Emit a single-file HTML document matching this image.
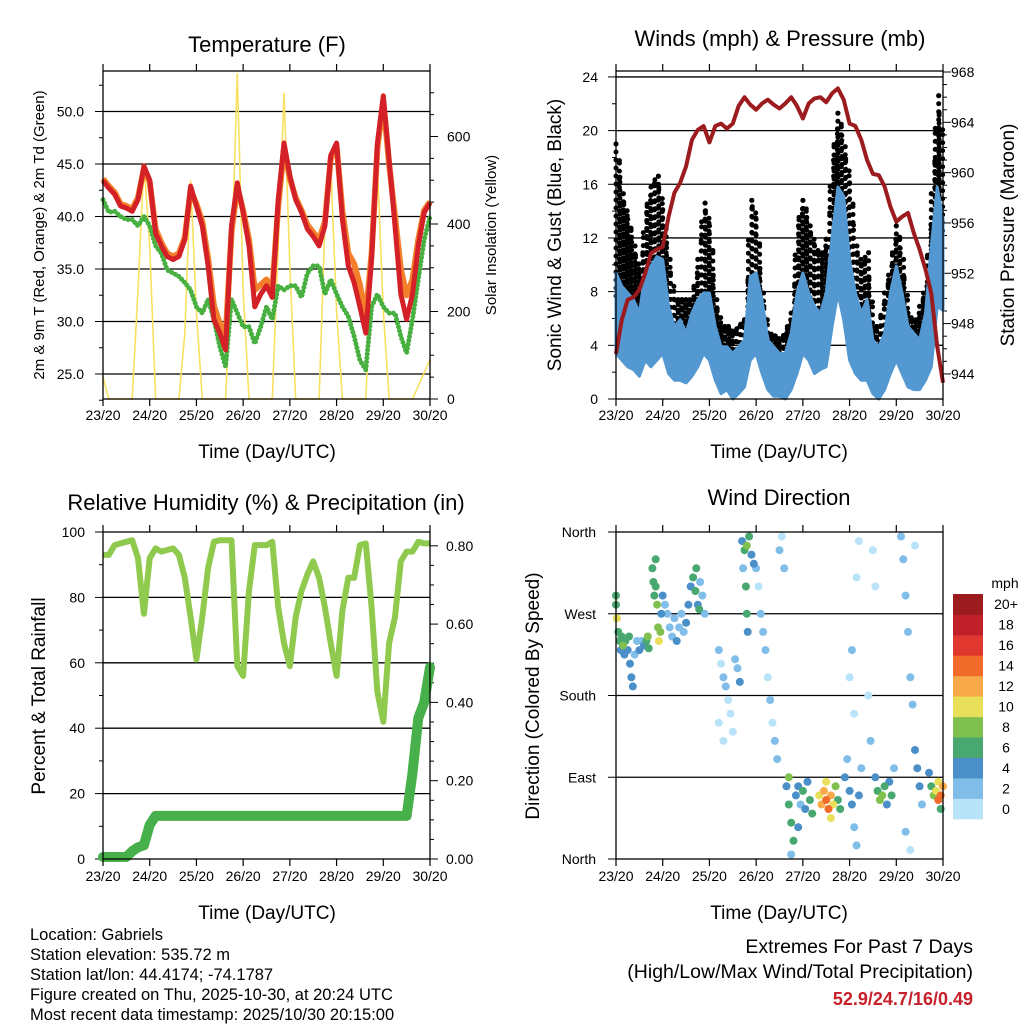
<!DOCTYPE html>
<html><head><meta charset="utf-8"><style>
html,body{margin:0;padding:0;background:#fff;}
svg{display:block;font-family:"Liberation Sans",sans-serif;}
</style></head><body>
<svg id="c" width="1024" height="1024" viewBox="0 0 1024 1024"></svg>
<script>
// ---------- data (3-hour samples, 57 points over 7 days) ----------
const days = ["23/20","24/20","25/20","26/20","27/20","28/20","29/20","30/20"];
const tempRed = [43.4,42.7,42.1,41.0,40.8,40.5,41.6,44.8,43.5,38.4,37.2,36.2,35.9,36.2,37.8,42.9,41.0,39.1,35.3,30.2,28.9,27.3,39.1,43.2,40.4,37.2,31.4,32.6,33.4,32.3,41.6,47.0,43.9,41.6,40.4,38.8,38.1,37.2,39.1,45.8,47.0,39.7,35.3,33.7,31.4,28.9,35.9,47.0,51.5,45.4,39.1,32.6,30.2,32.6,37.2,40.4,41.3];
const tempOrange = [43.6,42.9,42.3,41.2,41.0,40.7,41.8,44.5,43.3,38.8,37.5,36.5,36.2,36.5,38.0,42.5,41.2,39.5,36.0,31.5,29.8,28.5,38.5,42.8,40.6,37.8,33.0,33.5,34.0,33.0,41.0,46.5,43.6,41.8,40.6,39.2,38.5,37.8,39.5,45.5,46.7,40.5,36.5,35.5,33.5,30.5,36.5,46.5,51.0,45.0,40.0,35.0,32.5,34.0,37.8,40.6,41.4];
const tempDew = [41.6,40.4,40.5,40.0,39.7,39.7,39.1,40.0,39.1,37.2,36.5,34.9,34.6,34.3,33.7,33.0,31.4,30.8,32.1,30.2,27.6,25.7,32.1,30.8,29.5,29.5,27.9,29.5,31.4,30.2,33.4,33.0,33.4,33.4,32.3,34.6,35.3,35.3,32.6,34.0,32.6,31.4,30.5,28.6,26.3,25.4,31.4,32.6,31.4,30.8,30.8,28.6,27.0,30.2,34.0,37.8,40.0];
const solar = [50,0,0,0,0,0,250,540,350,0,0,0,0,0,150,500,200,0,0,0,0,0,300,745,250,0,0,0,0,0,350,700,300,0,0,0,0,0,400,540,200,0,0,0,0,0,300,530,200,0,0,0,0,0,30,60,90];
const windHi = [9.4,8.4,7.9,7.4,6.4,9.4,9.9,10.6,10.4,6.9,5.4,5.9,4.9,6.4,7.4,7.9,7.9,5.4,3.9,3.9,3.4,3.9,4.4,9.1,9.4,7.4,4.4,3.9,3.4,3.4,4.9,7.9,9.4,7.9,6.9,6.4,7.9,12.1,15.8,15.1,10.4,7.9,6.4,7.4,4.4,3.9,4.9,7.9,9.9,7.9,5.4,4.9,4.4,6.4,11.4,15.8,13.4];
const windLo = [3.4,2.9,2.4,2.2,1.7,2.9,2.4,2.9,3.4,1.9,1.4,1.4,1.2,1.7,2.4,3.4,2.9,1.4,0.4,0.7,0,0.4,0.9,2.9,3.4,1.9,0.7,0.2,0.2,0,0.7,1.9,3.4,2.9,1.9,2.2,2.4,5.4,7.9,5.9,2.9,1.9,1.4,1.4,0.4,0,0.7,1.9,2.9,1.9,0.9,0.7,0.7,1.4,2.4,6.9,6.6];
const gustHi = [19,15.3,13.4,11.4,9.4,13.9,15.8,16.6,14.1,10.4,7.4,7.4,7.4,7.4,10.4,14.6,12.9,7.4,5.4,5.4,4.9,5.4,5.9,14.8,13.4,7.9,4.9,4.7,4.4,4.9,6.4,12.9,14.8,12.9,11.4,10.4,11.9,17.8,21.3,18.8,16.1,11.4,9.9,10.9,5.4,5.4,7.9,9.9,12.9,10.4,6.4,5.4,6.9,8.4,15.3,22.6,18.8];
const pressure = [945.6,948.3,949.9,950.1,950.7,952.0,953.6,953.9,954.1,956.5,958.4,959.2,960.5,962.6,963.4,963.7,962.4,963.7,963.9,963.5,963.9,965.3,966.0,965.4,965.0,965.5,965.8,965.4,965.1,965.5,966.0,965.3,964.3,965.5,965.9,966.0,965.6,966.3,966.7,965.8,963.9,963.7,962.6,961.0,959.9,959.8,958.9,957.3,956.1,956.5,956.8,955.2,953.9,952.3,950.4,946.2,943.3];
const rh = [93,93,96,96.5,97,97.5,92,75,92,95,94,94.5,95,93,86,74,61,74,89,97,97.5,97.5,97.5,59,56,82,96,96,96,97,77,66,59,74,82,87,91,86,77,66,56,76,86,86,96,96.5,77,51,42,66,74,91,94,94,97,96.5,96.5];
const precip = [0.005,0.005,0.005,0.005,0.005,0.02,0.03,0.035,0.087,0.11,0.11,0.11,0.11,0.11,0.11,0.11,0.11,0.11,0.11,0.11,0.11,0.11,0.11,0.11,0.11,0.11,0.11,0.11,0.11,0.11,0.11,0.11,0.11,0.11,0.11,0.11,0.11,0.11,0.11,0.11,0.11,0.11,0.11,0.11,0.11,0.11,0.11,0.11,0.11,0.11,0.11,0.11,0.11,0.22,0.36,0.40,0.49];
const wdTime = [0,0,0.02,0.05,0.08,0.1,0.12,0.15,0.18,0.2,0.25,0.28,0.3,0.33,0.36,0.4,0.45,0.5,0.55,0.6,0.65,0.68,0.7,0.78,0.8,0.82,0.85,0.88,0.9,0.92,0.95,0.97,1.0,0.85,1.05,1.1,1.15,1.2,1.25,1.3,1.35,1.4,1.45,1.5,1.55,1.6,1.65,1.7,1.75,1.8,1.85,1.9,1.72,1.78,2.2,2.25,2.3,2.35,2.4,2.45,2.5,2.55,2.6,2.65,2.2,2.3,2.7,2.75,2.8,2.85,2.9,2.95,2.78,2.8,2.82,2.72,3.0,3.05,3.1,3.15,3.2,3.25,3.3,3.35,3.4,3.45,3.5,3.55,3.6,3.65,3.7,3.75,3.8,3.85,3.9,3.95,4.0,4.05,4.1,4.15,4.2,3.75,3.9,3.7,4.35,4.4,4.45,4.5,4.55,4.6,4.65,4.7,4.75,4.8,4.5,4.6,4.9,4.95,5.0,5.05,5.1,5.15,5.2,5.25,5.0,5.05,5.1,5.15,5.2,5.55,5.6,5.65,5.7,5.75,5.8,5.85,5.9,5.95,5.5,5.55,5.45,5.4,6.1,6.15,6.2,6.25,6.3,6.35,6.4,6.45,6.5,6.55,6.2,6.3,6.4,6.7,6.75,6.8,6.85,6.9,6.95,7.0,6.9,6.95];
const wdDir = [290,280,265,250,240,230,245,235,225,240,230,245,215,200,190,225,240,230,240,235,240,245,232,320,305,290,300,280,255,240,250,270,290,330,280,270,255,245,265,240,255,270,250,260,280,300,310,295,280,305,290,270,320,275,230,215,200,190,175,160,140,220,210,195,150,130,350,340,345,355,335,325,300,270,250,320,320,300,270,250,230,200,175,150,130,110,340,355,320,80,60,40,20,70,80,60,75,55,85,65,50,5,35,90,70,60,75,65,55,70,60,80,65,55,85,45,90,110,75,60,35,15,70,100,200,230,160,310,350,90,75,65,70,80,60,85,70,100,340,300,130,180,355,330,290,250,200,170,120,100,80,60,30,10,345,95,80,70,75,65,70,80,85,55];
const wdSpd = [7,7,10,6,6,5,7,8,4,6,5,7,4,4,4,3,3,4,3,5,7,8,7,6,6,7,6,8,9,10,8,5,4,7,3,2,3,2,3,4,2,3,2,4,4,5,6,6,4,3,2,3,6,7,2,1,2,3,1,1,0,2,3,4,1,0,5,7,8,6,5,4,6,6,5,3,2,1,2,3,2,1,2,1,3,2,3,1,2,5,6,7,6,4,5,3,6,5,4,6,7,3,4,8,11,12,13,15,14,12,10,9,7,6,10,11,4,3,5,4,3,2,4,3,1,2,1,1,1,5,7,8,9,7,5,4,6,3,1,1,2,1,2,3,2,2,3,2,4,5,4,3,2,1,1,5,7,9,11,14,15,12,10,6];
const speedBins = ["0","2","4","6","8","10","12","14","16","18","20+"];
const binColors = ["#b9e3f8","#80bde8","#4a8fc8","#48a870","#80c04e","#e8e05a","#f8aa4a","#f06a2a","#e0382e","#c0202a","#9b1b1e"];

// ---------- helpers ----------
const NS="http://www.w3.org/2000/svg";
const svg=document.getElementById('c');
function mk(tag,attrs,parent){const e=document.createElementNS(NS,tag);for(const k in attrs)e.setAttribute(k,attrs[k]);(parent||svg).appendChild(e);return e;}
function txt(s,x,y,size,anchor,parent,extra){const t=mk('text',Object.assign({x:x,y:y,'font-size':size,'text-anchor':anchor||'middle',fill:'#000'},extra||{}),parent);t.textContent=s;return t;}
const N=57;
function dayOf(i){return i/8;}

function panelFrame(name){
  const g=mk('g',{});
  
  
  return g;
}
function xAxis(g,x0,x1,y0,y1,labY){
  const sx=d=>x0+d*(x1-x0)/7;
  for(let i=0;i<8;i++){
    const x=sx(i);
    mk('line',{x1:x,y1:y1,x2:x,y2:y1+7,stroke:'#000','stroke-width':1.2},g);
    mk('line',{x1:x,y1:y0,x2:x,y2:y0-7,stroke:'#000','stroke-width':1.2},g);
    const t=txt(days[i],x,labY,14,'middle',g);
    
    
  }
  return sx;
}
function frame(g,x0,x1,y0,y1){
  mk('rect',{x:x0,y:y0,width:x1-x0,height:y1-y0,fill:'none',stroke:'#000','stroke-width':1.3},g);
}
function poly(g,pts,attrs){return mk('polyline',Object.assign({points:pts.map(p=>p[0].toFixed(1)+','+p[1].toFixed(1)).join(' '),fill:'none'},attrs),g);}

// ================= Panel 1: Temperature =================
(function(){
  const x0=103,x1=430,y0=71,y1=399;
  const g=panelFrame('temperature-panel');
  const sx=d=>x0+d*(x1-x0)/7;
  const ty=T=>374-(T-25)*10.5;
  const sy=S=>399-S*0.4375;
  [25,30,35,40,45,50].forEach(v=>{
    const y=ty(v);
    mk('line',{x1:x0,y1:y,x2:x1,y2:y,stroke:'#000','stroke-width':1.3},g);
    mk('line',{x1:x0-8,y1:y,x2:x0,y2:y,stroke:'#000','stroke-width':1},g);
    const t=txt(v.toFixed(1),x0-19,y+5,14,'end',g);
    
    
  });
  for(let v=22.5;v<=53;v+=2.5){if(v%5!==0)mk('line',{x1:x0-4,y1:ty(v),x2:x0,y2:ty(v),stroke:'#000','stroke-width':1},g);}
  [0,200,400,600].forEach(v=>{
    const y=sy(v);
    mk('line',{x1:x1,y1:y,x2:x1+8,y2:y,stroke:'#000','stroke-width':1},g);
    const t=txt(String(v),x1+17,y+5,14,'start',g);
    
    
  });
  for(let v=50;v<750;v+=50){if(v%200!==0)mk('line',{x1:x1,y1:sy(v),x2:x1+4,y2:sy(v),stroke:'#000','stroke-width':1},g);}
  const sol=poly(g,solar.map((v,i)=>[sx(dayOf(i)),sy(v)]),{stroke:'#f8e060','stroke-width':1.6});
  
  
  const dew=poly(g,tempDew.map((v,i)=>[sx(dayOf(i)),ty(v)]),{stroke:'#48b040','stroke-width':5,'stroke-linecap':'round','stroke-dasharray':'0 4'});
  
  
  const or=poly(g,tempOrange.map((v,i)=>[sx(dayOf(i)),ty(v)]),{stroke:'#f47f2a','stroke-width':6,'stroke-linejoin':'round'});
  
  
  const rd=poly(g,tempRed.map((v,i)=>[sx(dayOf(i)),ty(v)]),{stroke:'#d42027','stroke-width':5,'stroke-linejoin':'round'});
  
  
  frame(g,x0,x1,y0,y1);
  xAxis(g,x0,x1,y0,y1,420);
  const t1=txt('Temperature (F)',267,52,22,'middle',g);
  
  
  const t2=txt('Time (Day/UTC)',267,458,19,'middle',g);
  
  
  const t3=txt('2m & 9m T (Red, Orange) & 2m Td (Green)',0,0,15,'middle',g,{transform:'translate(44,235) rotate(-90)'});
  
  
  const t4=txt('Solar Insolation (Yellow)',0,0,15,'middle',g,{transform:'translate(496,235) rotate(-90)'});
  
  
})();

// ================= Panel 2: Winds & Pressure =================
(function(){
  const x0=616,x1=943,y0=71,y1=399;
  const g=panelFrame('winds-panel');
  const sx=d=>x0+d*(x1-x0)/7;
  const wy=v=>399-v*13.42;
  const py=p=>72+(968-p)*12.58;
  [4,8,12,16,20,24].forEach(v=>mk('line',{x1:x0,y1:wy(v),x2:x1,y2:wy(v),stroke:'#000','stroke-width':1.3},g));
  [0,4,8,12,16,20,24].forEach(v=>{
    mk('line',{x1:x0-8,y1:wy(v),x2:x0,y2:wy(v),stroke:'#000','stroke-width':1},g);
    const t=txt(String(v),x0-18,wy(v)+5,14,'end',g);
    
    
  });
  for(let v=2;v<24;v+=4)mk('line',{x1:x0-4,y1:wy(v),x2:x0,y2:wy(v),stroke:'#000','stroke-width':1},g);
  [944,948,952,956,960,964,968].forEach(v=>{
    mk('line',{x1:x1,y1:py(v),x2:x1+8,y2:py(v),stroke:'#000','stroke-width':1},g);
    const t=txt(String(v),x1+8,py(v)+5,14,'start',g);
    
    
  });
  for(let v=945;v<968;v++){if(v%4!==0)mk('line',{x1:x1,y1:py(v),x2:x1+4,y2:py(v),stroke:'#000','stroke-width':1},g);}
  const gg=mk('g',{},g);
  
  
  for(let i=0;i<N-1;i++){
    for(let k=0;k<3;k++){
      const f=k/3, d=dayOf(i)+f/8;
      const hi=gustHi[i]+(gustHi[i+1]-gustHi[i])*f;
      const lo=windHi[i]+(windHi[i+1]-windHi[i])*f-2;
      const x=sx(d)+((k+i)%2)*1.5;
      const off=((i*3+k)%3)*2.5;
      for(let yy=wy(hi)+off;yy<=wy(Math.max(lo,0));yy+=8){
        mk('circle',{cx:x.toFixed(1),cy:yy.toFixed(1),r:2.5,fill:'#000'},gg);
      }
      mk('circle',{cx:x.toFixed(1),cy:wy(hi).toFixed(1),r:2.5,fill:'#000'},gg);
    }
  }
  const top=windHi.map((v,i)=>[sx(dayOf(i)),wy(v)]);
  const bot=windLo.map((v,i)=>[sx(dayOf(i)),wy(v)]).reverse();
  const band=mk('polygon',{points:top.concat(bot).map(p=>p[0].toFixed(1)+','+p[1].toFixed(1)).join(' '),fill:'#5398d0',stroke:'#5398d0','stroke-width':3,'stroke-linejoin':'round'},g);
  
  
  const pl=poly(g,pressure.map((v,i)=>[sx(dayOf(i)),py(v)]),{stroke:'#9b1b1e','stroke-width':4,'stroke-linejoin':'round'});
  
  
  frame(g,x0,x1,y0,y1);
  xAxis(g,x0,x1,y0,y1,420);
  const t1=txt('Winds (mph) & Pressure (mb)',780,46,22,'middle',g);
  
  
  const t2=txt('Time (Day/UTC)',779,458,19,'middle',g);
  
  
  const t3=txt('Sonic Wind & Gust (Blue, Black)',0,0,19,'middle',g,{transform:'translate(561,235) rotate(-90)'});
  
  
  const t4=txt('Station Pressure (Maroon)',0,0,19,'middle',g,{transform:'translate(1014,235) rotate(-90)'});
  
  
})();

// ================= Panel 3: RH & Precip =================
(function(){
  const x0=103,x1=430,y0=532,y1=859;
  const g=panelFrame('humidity-panel');
  const sx=d=>x0+d*(x1-x0)/7;
  const ry=v=>859-v*3.27;
  const qy=v=>859-v*391.5;
  [20,40,60,80].forEach(v=>mk('line',{x1:x0,y1:ry(v),x2:x1,y2:ry(v),stroke:'#000','stroke-width':1.3},g));
  [0,20,40,60,80,100].forEach(v=>{
    mk('line',{x1:x0-8,y1:ry(v),x2:x0,y2:ry(v),stroke:'#000','stroke-width':1},g);
    const t=txt(String(v),x0-18,ry(v)+5,14,'end',g);
    
    
  });
  for(let v=10;v<100;v+=20)mk('line',{x1:x0-4,y1:ry(v),x2:x0,y2:ry(v),stroke:'#000','stroke-width':1},g);
  [0,0.2,0.4,0.6,0.8].forEach(v=>{
    mk('line',{x1:x1,y1:qy(v),x2:x1+8,y2:qy(v),stroke:'#000','stroke-width':1},g);
    const t=txt(v.toFixed(2),x1+16,qy(v)+5,14,'start',g);
    
    
  });
  for(let v=0.05;v<0.83;v+=0.05){if(Math.round(v*100)%20!==0)mk('line',{x1:x1,y1:qy(v),x2:x1+4,y2:qy(v),stroke:'#000','stroke-width':1},g);}
  const r=poly(g,rh.map((v,i)=>[sx(dayOf(i)),ry(v)]),{stroke:'#8fca4e','stroke-width':6,'stroke-linejoin':'round'});
  
  
  const p=poly(g,precip.map((v,i)=>[sx(dayOf(i)),qy(v)]),{stroke:'#48b04a','stroke-width':10,'stroke-linejoin':'round','stroke-linecap':'round'});
  
  
  frame(g,x0,x1,y0,y1);
  xAxis(g,x0,x1,y0,y1,881);
  const t1=txt('Relative Humidity (%) & Precipitation (in)',266,510,22,'middle',g);
  
  
  const t2=txt('Time (Day/UTC)',267,919,19,'middle',g);
  
  
  const t3=txt('Percent & Total Rainfall',0,0,19,'middle',g,{transform:'translate(45,696) rotate(-90)'});
  
  
})();

// ================= Panel 4: Wind direction =================
(function(){
  const x0=616,x1=943,y0=532,y1=859;
  const g=panelFrame('wind-direction-panel');
  const sx=d=>x0+d*(x1-x0)/7;
  const dy=v=>859-v*(327/360);
  [90,180,270].forEach(v=>mk('line',{x1:x0,y1:dy(v),x2:x1,y2:dy(v),stroke:'#000','stroke-width':1.3},g));
  [[0,'North'],[90,'East'],[180,'South'],[270,'West'],[360,'North']].forEach(a=>{
    mk('line',{x1:x0-8,y1:dy(a[0]),x2:x0,y2:dy(a[0]),stroke:'#000','stroke-width':1},g);
    const t=txt(a[1],x0-20,dy(a[0])+5,14,'end',g);
    
    
  });
  const pg=mk('g',{},g);
  
  
  const order=wdSpd.map((s,i)=>i).sort((a,b)=>wdSpd[a]-wdSpd[b]);
  order.forEach(i=>{
    const bin=Math.min(10,Math.floor(wdSpd[i]/2));
    const c=mk('circle',{cx:sx(wdTime[i]).toFixed(1),cy:dy(wdDir[i]).toFixed(1),r:4,fill:binColors[bin]},pg);
    
    
  });
  frame(g,x0,x1,y0,y1);
  xAxis(g,x0,x1,y0,y1,881);
  const cb=mk('g',{},g);
  
  
  const bh=(819-594)/11;
  for(let i=0;i<11;i++){
    const y=819-(i+1)*bh;
    mk('rect',{x:953,y:y.toFixed(1),width:30,height:(bh+0.3).toFixed(1),fill:binColors[i]},cb);
    const t=txt(speedBins[i],1006,y+bh/2+5,14,'middle',cb);
    
    
  }
  const cu=txt('mph',1005,588,14,'middle',cb);
  
  
  const t1=txt('Wind Direction',779,505,22,'middle',g);
  
  
  const t2=txt('Time (Day/UTC)',779,919,19,'middle',g);
  
  
  const t3=txt('Direction (Colored By Speed)',0,0,19,'middle',g,{transform:'translate(539,696) rotate(-90)'});
  
  
})();

// ================= Footer text =================
(function(){
  const g=mk('g',{});
  
  
  const lines=['Location: Gabriels','Station elevation: 535.72 m','Station lat/lon: 44.4174; -74.1787','Figure created on Thu, 2025-10-30, at 20:24 UTC','Most recent data timestamp: 2025/10/30 20:15:00'];
  lines.forEach((s,i)=>{const t=txt(s,30,940+i*20,16.5,'start',g);});
  const e=mk('g',{});
  
  
  const a=txt('Extremes For Past 7 Days',973,953,19.5,'end',e);
  
  
  const b=txt('(High/Low/Max Wind/Total Precipitation)',973,978,19.5,'end',e);
  
  
  const c=txt('52.9/24.7/16/0.49',973,1005,18,'end',e,{fill:'#c8202a','font-weight':'bold'});
  
  
})();
</script>
</body></html>
